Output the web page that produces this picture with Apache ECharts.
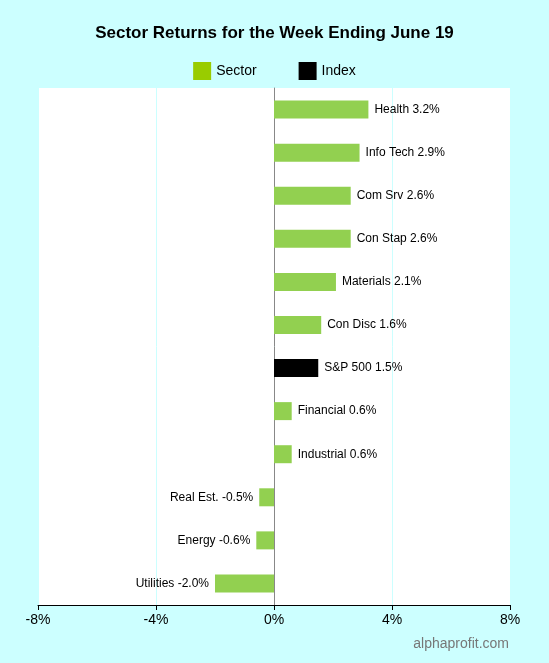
<!DOCTYPE html>
<html><head><meta charset="utf-8">
<script src="https://cdn.jsdelivr.net/npm/echarts@6/dist/echarts.min.js"></script>
<style>html,body{margin:0;padding:0;background:#ccffff;}#c{width:549px;height:663px;}</style>
</head><body><div id="c"></div>
<script>
const categories = ['Health','Info Tech','Com Srv','Con Stap','Materials','Con Disc','S&P 500','Financial','Industrial','Real Est.','Energy','Utilities'];
const values = [3.2,2.9,2.6,2.6,2.1,1.6,1.5,0.6,0.6,-0.5,-0.6,-2.0];
const indexName = 'S&P 500';
const xTicks = [-8,-4,0,4,8];

const sectorData = values.map((v,i)=>categories[i]===indexName?null:v);
const indexData = values.map((v,i)=>categories[i]===indexName?v:null);
const lbl = {
  show:true, fontSize:12, color:'#000', fontFamily:'Liberation Sans, Arial',
  formatter:p=>p.name+' '+p.value.toFixed(1)+'%',
  position:'right', distance:6
};
function items(arr){return arr.map(v=>v===null?null:{value:v,label:{position:v<0?'left':'right'}});}
const chart = echarts.init(document.getElementById('c'));
chart.setOption({
  backgroundColor:'#ccffff',
  animation:false,
  title:{text:'Sector Returns for the Week Ending June 19',left:'center',top:20,
    textStyle:{fontSize:17,fontWeight:'bold',color:'#000',fontFamily:'Liberation Sans, Arial'}},
  legend:{top:57,left:'center',itemWidth:18,itemHeight:18,itemGap:42,
    textStyle:{fontSize:14,color:'#000',fontFamily:'Liberation Sans, Arial'},
    data:[{name:'Sector',icon:'rect',itemStyle:{color:'#99cc00'}},{name:'Index',icon:'rect',itemStyle:{color:'#000'}}]},
  grid:{left:38,right:39,top:88,bottom:58,show:true,backgroundColor:'#fff',borderWidth:0},
  xAxis:{type:'value',min:xTicks[0],max:xTicks[xTicks.length-1],interval:4,
    axisLine:{show:true,lineStyle:{color:'#000'}},axisTick:{show:true,lineStyle:{color:'#000'}},
    axisLabel:{formatter:v=>v+'%',fontSize:14,color:'#000',fontFamily:'Liberation Sans, Arial'},
    splitLine:{show:true,lineStyle:{color:'#ccffff'}}},
  yAxis:{type:'category',data:categories,inverse:true,
    axisLine:{show:true,onZero:true,lineStyle:{color:'#888'}},axisTick:{show:false},axisLabel:{show:false}},
  series:[
    {name:'Sector',type:'bar',data:items(sectorData),barWidth:18,itemStyle:{color:'#92d050'},label:lbl},
    {name:'Index',type:'bar',data:items(indexData),barWidth:18,barGap:'-100%',itemStyle:{color:'#000'},label:lbl}
  ],
  graphic:[{type:'text',right:40,bottom:12,style:{text:'alphaprofit.com',fontSize:14,fill:'#777',fontFamily:'Liberation Sans, Arial'}}]
});
</script></body></html>
